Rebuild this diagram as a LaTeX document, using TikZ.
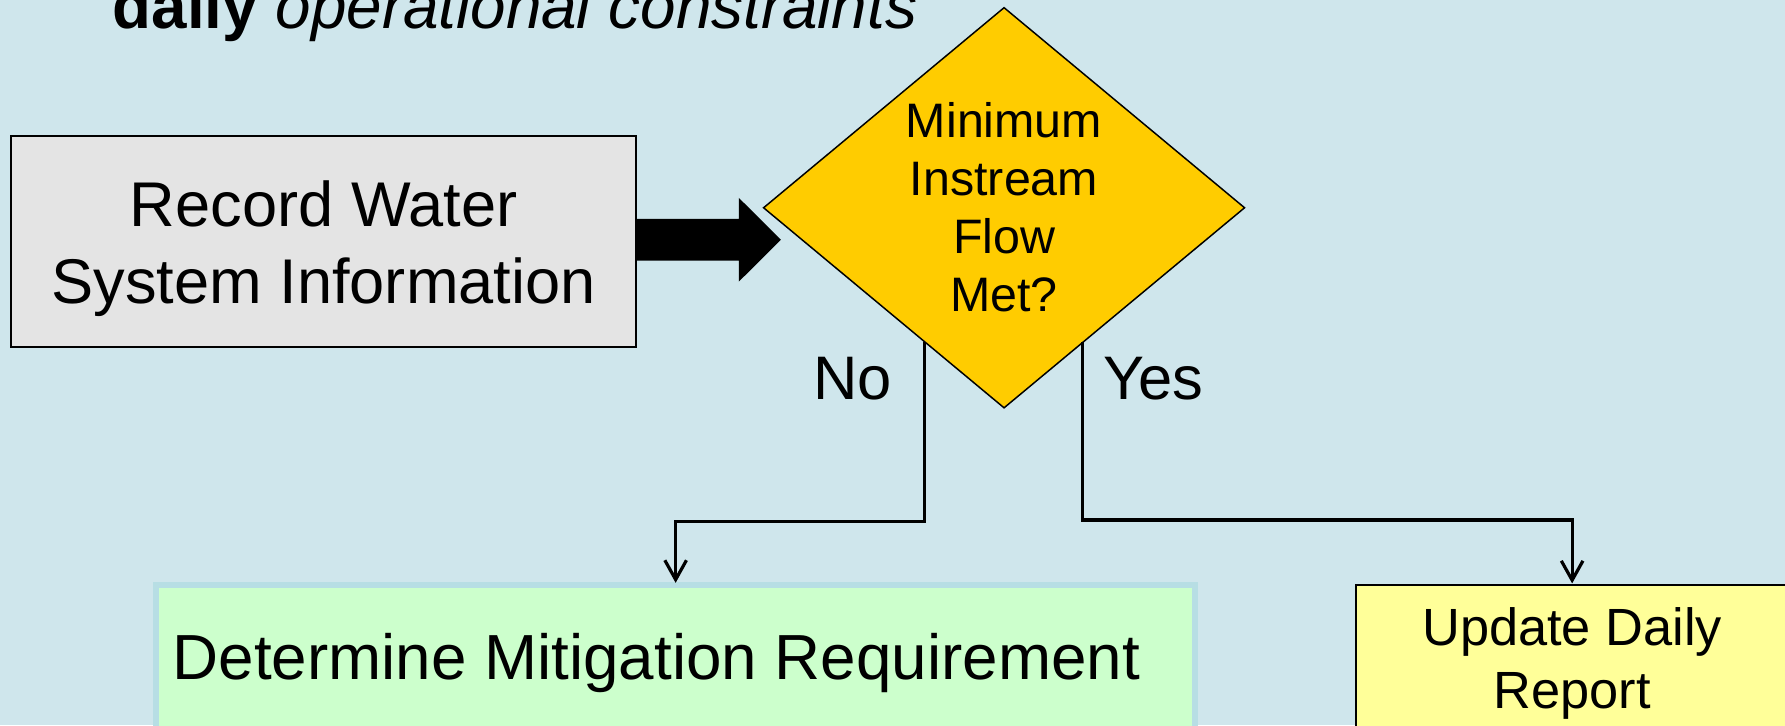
\documentclass[tikz,border=0pt]{standalone}
\usepackage{fontspec}
\setmainfont{Liberation Sans}
\usetikzlibrary{shapes.geometric,arrows.meta,calc}

\definecolor{bgblue}{RGB}{207,230,236}
\definecolor{boxgray}{RGB}{228,228,228}
\definecolor{diagold}{RGB}{255,204,0}
\definecolor{mintgreen}{RGB}{204,255,204}
\definecolor{greenedge}{RGB}{183,222,228}
\definecolor{paleyellow}{RGB}{255,255,153}

\begin{document}
\begin{tikzpicture}[x=1pt,y=-1pt,
  box/.style={draw=black, line width=1.6pt, inner sep=0pt, outer sep=0pt},
  txt/.style={inner sep=0pt, outer sep=0pt, align=center},
  conn/.style={line width=2.8pt, -{Straight Barb[length=17pt,width=19pt]}}]

\useasboundingbox (0,0) rectangle (1568,637);
\clip (0,0) rectangle (1568,637);
\fill[bgblue] (0,0) rectangle (1568,637);

% heading (runs off the top edge)
\node[txt, anchor=base west, font=\fontsize{56}{67}\selectfont] (title) at (99,25)
  {\textbf{daily} \textit{operational constraints}};

% input step
\node[box, fill=boxgray, minimum width=548.5pt, minimum height=185pt] (rec) at (284.25,212) {};
\node[txt, font=\fontsize{55.5}{67}\selectfont] (rectxt) at ($(rec.center)+(0,6.5)$)
  {Record Water\\System Information};

% decision
\node[draw=black, line width=1.3pt, fill=diagold, diamond, inner sep=0pt, outer sep=0pt,
      minimum width=422.5pt, minimum height=351.5pt] (dia) at (882,182.5) {};
\node[txt, font=\fontsize{42.5}{51}\selectfont] (diatxt) at (882,182.3)
  {Minimum\\Instream\\Flow\\Met?};

% thick block arrow into the decision
\path (rec.east) ++(0,-1.4) coordinate (ax);
\fill[black] ($(ax)+(0,-18.3)$) -- ($(ax)+(90.5,-18.3)$) -- ($(ax)+(90.5,-36.8)$)
  -- ($(ax)+(127.5,0)$) -- ($(ax)+(90.5,36.8)$) -- ($(ax)+(90.5,18.3)$)
  -- ($(ax)+(0,18.3)$) -- cycle;

% outcomes
\node[draw=greenedge, line width=5pt, fill=mintgreen, inner sep=0pt, outer sep=0pt,
      minimum width=913pt, minimum height=150pt, anchor=north west] (mit) at (137,514) {};
\node[txt, anchor=base west, font=\fontsize{56}{67}\selectfont] (mittxt) at (151.7,597)
  {Determine Mitigation Requirement};

\node[box, fill=paleyellow, minimum width=380pt, minimum height=150pt, anchor=north west]
  (upd) at (1191,514) {};
\node[txt, font=\fontsize{46}{55.4}\selectfont] (updtxt) at (1381,582.6)
  {Update Daily\\Report};

% branch labels
\node[txt, anchor=base west, font=\fontsize{54}{65}\selectfont] (nolbl) at (714.5,351) {No};
\node[txt, anchor=base west, font=\fontsize{54}{65}\selectfont] (yeslbl) at (969,351) {Yes};

% branch connectors
\draw[conn, shorten >=2pt] ($(dia.west)!0.67!(dia.south)$) -- ++(0,158) -| (mit.north);
\draw[conn, shorten >=1.5pt] ($(dia.south)!0.327!(dia.east)$) -- ++(0,156) -| (upd.north);
\end{tikzpicture}
\end{document}
